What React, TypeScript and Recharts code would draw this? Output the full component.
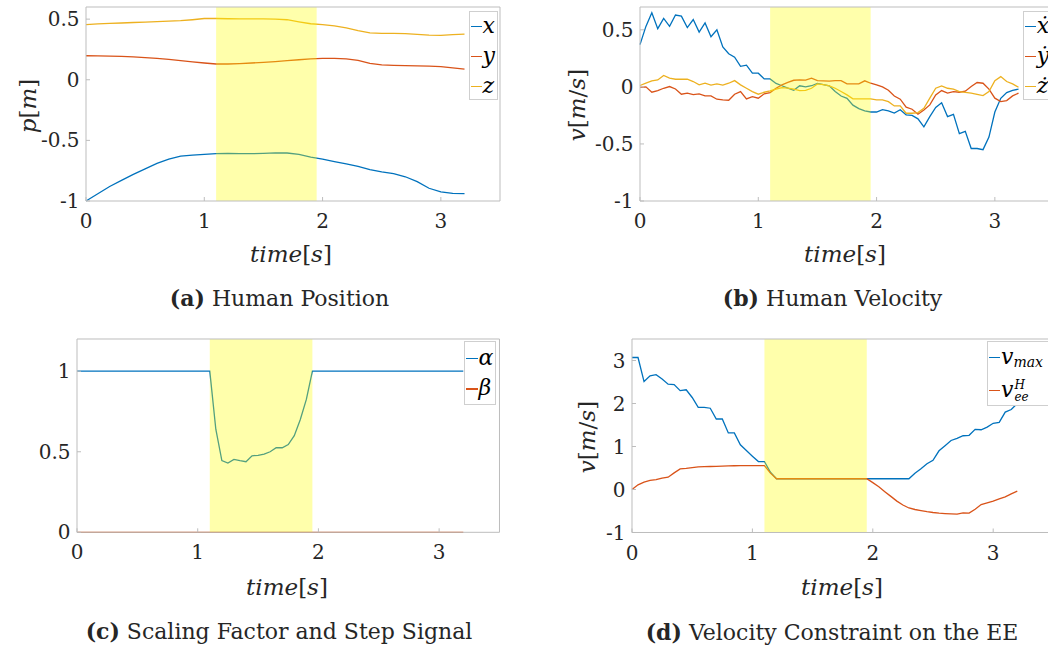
import React from "react";
import { LineChart, Line, XAxis, YAxis, ReferenceArea } from "recharts";

const FONT = '"DejaVu Serif", "Liberation Serif", serif';
const BLUE = "#0072BD";
const RED = "#D95319";
const YELLOW = "#EDB120";
const AXIS = "#bdbdbd";
const INK = "#262626";

// shaded window (s)
const shadeFrom = 1.1;
const shadeTo = 1.95;
const timeTicks = [0, 1, 2, 3];

// (a) human position, every 0.1 s
const posTime = [0, 0.1, 0.2, 0.3, 0.4, 0.5, 0.6, 0.7, 0.8, 0.9, 1, 1.1, 1.2, 1.3, 1.4, 1.5, 1.6, 1.7, 1.8, 1.9, 2, 2.1, 2.2, 2.3, 2.4, 2.5, 2.6, 2.7, 2.8, 2.9, 3, 3.1, 3.2];
const posX = [-1, -0.94, -0.88, -0.83, -0.78, -0.735, -0.69, -0.655, -0.63, -0.622, -0.615, -0.61, -0.607, -0.609, -0.61, -0.607, -0.603, -0.604, -0.615, -0.638, -0.655, -0.675, -0.693, -0.715, -0.742, -0.76, -0.775, -0.8, -0.84, -0.895, -0.925, -0.937, -0.94];
const posY = [0.198, 0.197, 0.195, 0.192, 0.188, 0.182, 0.176, 0.168, 0.158, 0.148, 0.138, 0.13, 0.13, 0.133, 0.138, 0.144, 0.15, 0.158, 0.165, 0.172, 0.176, 0.176, 0.172, 0.16, 0.135, 0.122, 0.118, 0.116, 0.114, 0.112, 0.108, 0.098, 0.088];
const posZ = [0.455, 0.46, 0.465, 0.468, 0.472, 0.476, 0.48, 0.483, 0.487, 0.495, 0.505, 0.505, 0.503, 0.502, 0.502, 0.502, 0.5, 0.495, 0.478, 0.462, 0.455, 0.445, 0.428, 0.405, 0.386, 0.383, 0.382, 0.38, 0.375, 0.368, 0.366, 0.372, 0.376];

// (b) human velocity, every 0.05 s
const velTime = [0, 0.05, 0.1, 0.15, 0.2, 0.25, 0.3, 0.35, 0.4, 0.45, 0.5, 0.55, 0.6, 0.65, 0.7, 0.75, 0.8, 0.85, 0.9, 0.95, 1, 1.05, 1.1, 1.15, 1.2, 1.25, 1.3, 1.35, 1.4, 1.45, 1.5, 1.55, 1.6, 1.65, 1.7, 1.75, 1.8, 1.85, 1.9, 1.95, 2, 2.05, 2.1, 2.15, 2.2, 2.25, 2.3, 2.35, 2.4, 2.45, 2.5, 2.55, 2.6, 2.65, 2.7, 2.75, 2.8, 2.85, 2.9, 2.95, 3, 3.05, 3.1, 3.15, 3.2];
const velX = [0.37, 0.53, 0.65, 0.51, 0.6, 0.53, 0.63, 0.62, 0.52, 0.59, 0.48, 0.56, 0.44, 0.5, 0.35, 0.29, 0.26, 0.18, 0.19, 0.12, 0.12, 0.07, 0.07, 0.03, 0.01, -0.01, -0.03, 0.01, 0.0, 0.01, 0.03, 0.02, 0.01, -0.04, -0.08, -0.1, -0.16, -0.19, -0.21, -0.22, -0.22, -0.2, -0.21, -0.23, -0.2, -0.245, -0.25, -0.28, -0.35, -0.26, -0.18, -0.14, -0.26, -0.24, -0.41, -0.39, -0.54, -0.54, -0.55, -0.44, -0.22, -0.1, -0.05, -0.03, -0.02];
const velY = [-0.005, 0.0, -0.047, -0.032, -0.012, 0.003, -0.018, -0.064, -0.055, -0.067, -0.061, -0.079, -0.079, -0.108, -0.114, -0.117, -0.064, -0.041, -0.105, -0.085, -0.099, -0.061, -0.05, -0.012, 0.018, 0.04, 0.058, 0.061, 0.06, 0.076, 0.055, 0.052, 0.05, 0.055, 0.055, 0.026, 0.026, 0.026, 0.053, 0.032, 0.018, 0.0, -0.03, -0.08, -0.108, -0.178, -0.196, -0.24, -0.202, -0.158, -0.07, -0.032, -0.055, -0.041, -0.047, -0.038, 0.003, 0.038, 0.032, -0.02, -0.099, -0.129, -0.12, -0.079, -0.055];
const velZ = [0.012, 0.032, 0.053, 0.061, 0.1, 0.076, 0.067, 0.067, 0.067, 0.047, 0.018, 0.032, 0.015, 0.026, 0.015, 0.032, 0.055, 0.018, -0.012, -0.041, -0.064, -0.047, -0.035, -0.02, -0.006, -0.01, -0.02, -0.032, -0.03, -0.012, 0.026, 0.02, 0.009, -0.012, -0.04, -0.07, -0.105, -0.105, -0.105, -0.105, -0.114, -0.114, -0.129, -0.167, -0.167, -0.231, -0.231, -0.225, -0.187, -0.099, -0.012, 0.009, -0.012, -0.02, -0.041, -0.048, -0.055, -0.065, -0.076, -0.041, 0.055, 0.09, 0.047, 0.026, -0.003];

// (c) scaling factor / step signal
const scaleTime = [0, 1.1, 1.15, 1.2, 1.25, 1.3, 1.35, 1.4, 1.45, 1.5, 1.55, 1.6, 1.65, 1.7, 1.75, 1.8, 1.85, 1.9, 1.95, 3.2];
const alpha = [1, 1, 0.64, 0.445, 0.43, 0.453, 0.445, 0.438, 0.475, 0.478, 0.486, 0.5, 0.525, 0.525, 0.545, 0.6, 0.7, 0.825, 1, 1];
const beta = [0, 0, 0, 0, 0, 0, 0, 0, 0, 0, 0, 0, 0, 0, 0, 0, 0, 0, 0, 0];

// (d) velocity constraint, every 0.05 s
const vMax = [3.07, 3.07, 2.51, 2.645, 2.67, 2.57, 2.45, 2.44, 2.3, 2.32, 2.14, 1.91, 1.91, 1.89, 1.64, 1.64, 1.315, 1.315, 1.04, 0.905, 0.775, 0.65, 0.65, 0.4, 0.25, 0.25, 0.25, 0.25, 0.25, 0.25, 0.25, 0.25, 0.25, 0.25, 0.25, 0.25, 0.25, 0.25, 0.25, 0.25, 0.25, 0.25, 0.25, 0.25, 0.25, 0.25, 0.25, 0.38, 0.48, 0.6, 0.68, 0.9, 1.02, 1.14, 1.19, 1.25, 1.26, 1.4, 1.39, 1.45, 1.54, 1.56, 1.8, 1.86, 2.0];
const vEe = [0.0, 0.108, 0.17, 0.21, 0.232, 0.263, 0.286, 0.387, 0.48, 0.49, 0.51, 0.527, 0.53, 0.535, 0.54, 0.545, 0.55, 0.552, 0.554, 0.555, 0.556, 0.557, 0.557, 0.38, 0.25, 0.25, 0.25, 0.25, 0.25, 0.25, 0.25, 0.25, 0.25, 0.25, 0.25, 0.25, 0.25, 0.25, 0.25, 0.25, 0.16, 0.065, -0.05, -0.16, -0.27, -0.36, -0.43, -0.465, -0.49, -0.515, -0.535, -0.55, -0.56, -0.567, -0.573, -0.545, -0.55, -0.46, -0.35, -0.31, -0.27, -0.22, -0.17, -0.1, -0.04];

const toRows = (time: number[], cols: Record<string, number[]>) =>
  time.map((t, i) => {
    const row: Record<string, number> = { t };
    for (const k in cols) row[k] = cols[k][i];
    return row;
  });

interface PanelProps {
  x: number; // page coords of plot box
  y: number;
  w: number;
  h: number;
  yDomain: [number, number];
  yTicks: number[];
  rows: Record<string, number>[];
  lines: { key: string; color: string }[];
}

const LEFT = 80;
const TOP = 7;
const BOTTOM = 50;
const RIGHT = 20;

const Panel: React.FC<PanelProps> = ({ x, y, w, h, yDomain, yTicks, rows, lines }) => {
  const tickStyle = { fontSize: 20, fill: INK, fontFamily: FONT };
  return (
    <div style={{ position: "absolute", left: x - LEFT, top: y - TOP }}>
      <LineChart
        width={w + LEFT + RIGHT}
        height={h + TOP + BOTTOM}
        data={rows}
        margin={{ top: TOP - 1, right: RIGHT - 1, left: 0, bottom: 0 }}
      >
        <XAxis
          xAxisId="b"
          dataKey="t"
          type="number"
          domain={[0, 3.5]}
          ticks={timeTicks}
          height={BOTTOM}
          axisLine={{ stroke: AXIS }}
          tickLine={{ stroke: AXIS }}
          tickSize={-4}
          tickMargin={17}
          tick={tickStyle}
        />
        <XAxis
          xAxisId="t"
          orientation="top"
          dataKey="t"
          type="number"
          domain={[0, 3.5]}
          ticks={timeTicks}
          height={1}
          axisLine={{ stroke: AXIS }}
          tickLine={{ stroke: AXIS }}
          tickSize={-4}
          tick={false}
        />
        <YAxis
          yAxisId="l"
          type="number"
          domain={yDomain}
          ticks={yTicks}
          width={LEFT}
          axisLine={{ stroke: AXIS }}
          tickLine={{ stroke: AXIS }}
          tickSize={-4}
          tickMargin={10.5}
          tick={tickStyle}
        />
        <YAxis
          yAxisId="r"
          orientation="right"
          type="number"
          domain={yDomain}
          ticks={yTicks}
          width={1}
          axisLine={{ stroke: AXIS }}
          tickLine={{ stroke: AXIS }}
          tickSize={-4}
          tick={false}
        />
        {lines.map((l) => (
          <Line
            key={l.key}
            xAxisId="b"
            yAxisId="l"
            type="linear"
            dataKey={l.key}
            stroke={l.color}
            strokeWidth={1.3}
            dot={false}
            isAnimationActive={false}
          />
        ))}
        <ReferenceArea
          xAxisId="b"
          yAxisId="l"
          x1={shadeFrom}
          x2={shadeTo}
          fill="#ffff00"
          fillOpacity={0.33}
          stroke="none"
          zIndex={450}
        />
      </LineChart>
    </div>
  );
};

// free text, centred on (x, y)
const Txt: React.FC<{ x: number; y: number; size: number; rotate?: boolean; children: React.ReactNode }> = ({
  x,
  y,
  size,
  rotate,
  children,
}) => (
  <div
    style={{
      position: "absolute",
      left: x,
      top: y,
      transform: `translate(-50%, -50%)${rotate ? " rotate(-90deg)" : ""}`,
      fontFamily: FONT,
      fontSize: size,
      color: INK,
      whiteSpace: "nowrap",
      lineHeight: 1,
    }}
  >
    {children}
  </div>
);

interface LegendEntry {
  color: string;
  y: number;
  label: React.ReactNode;
}

const LegendBox: React.FC<{ x: number; y: number; w: number; h: number; lineW: number; entries: LegendEntry[] }> = ({
  x,
  y,
  w,
  h,
  lineW,
  entries,
}) => (
  <div
    style={{
      position: "absolute",
      left: x,
      top: y,
      width: w,
      height: h,
      border: "1px solid #cfcfcf",
      background: "white",
      boxSizing: "border-box",
    }}
  >
    {entries.map((e, i) => (
      <React.Fragment key={i}>
        <div
          style={{
            position: "absolute",
            left: 1,
            top: e.y - 1,
            width: lineW,
            height: 1.4,
            background: e.color,
          }}
        />
        <div
          style={{
            position: "absolute",
            left: lineW + 2,
            top: e.y,
            transform: "translateY(-55%)",
            fontFamily: FONT,
            fontStyle: "italic",
            fontSize: 22,
            lineHeight: 1,
            color: "#000",
            whiteSpace: "nowrap",
          }}
        >
          {e.label}
        </div>
      </React.Fragment>
    ))}
  </div>
);

const TimeLabel = () => (
  <span>
    <i>time</i>[<i>s</i>]
  </span>
);
const VelLabel = () => (
  <span>
    <i>v</i>[<i>m</i>/<i>s</i>]
  </span>
);

export default function App() {
  const posRows = toRows(posTime, { x: posX, y: posY, z: posZ });
  const velRows = toRows(velTime, { x: velX, y: velY, z: velZ });
  const scaleRows = toRows(scaleTime, { a: alpha, b: beta });
  const conRows = toRows(velTime, { vmax: vMax, vee: vEe });

  return (
    <div
      style={{
        position: "absolute",
        left: 0,
        top: 0,
        width: 1048,
        height: 651,
        overflow: "hidden",
        background: "white",
      }}
    >
      <Panel
        x={85.5}
        y={7}
        w={414}
        h={194}
        yDomain={[-1, 0.6]}
        yTicks={[-1, -0.5, 0, 0.5]}
        rows={posRows}
        lines={[
          { key: "x", color: BLUE },
          { key: "y", color: RED },
          { key: "z", color: YELLOW },
        ]}
      />
      <Panel
        x={639.7}
        y={7}
        w={414}
        h={194}
        yDomain={[-1, 0.7]}
        yTicks={[-1, -0.5, 0, 0.5]}
        rows={velRows}
        lines={[
          { key: "x", color: BLUE },
          { key: "y", color: RED },
          { key: "z", color: YELLOW },
        ]}
      />
      <Panel
        x={77}
        y={338.7}
        w={422.5}
        h={193.3}
        yDomain={[0, 1.2]}
        yTicks={[0, 0.5, 1]}
        rows={scaleRows}
        lines={[
          { key: "a", color: BLUE },
          { key: "b", color: RED },
        ]}
      />
      <Panel
        x={631.7}
        y={338.5}
        w={421.4}
        h={193.5}
        yDomain={[-1, 3.5]}
        yTicks={[-1, 0, 1, 2, 3]}
        rows={conRows}
        lines={[
          { key: "vmax", color: BLUE },
          { key: "vee", color: RED },
        ]}
      />

      {/* axis labels */}
      <Txt x={291} y={254} size={23}>
        <TimeLabel />
      </Txt>
      <Txt x={845} y={254} size={23}>
        <TimeLabel />
      </Txt>
      <Txt x={287} y={587} size={23}>
        <TimeLabel />
      </Txt>
      <Txt x={842} y={587} size={23}>
        <TimeLabel />
      </Txt>
      <Txt x={27.5} y={106} size={23} rotate>
        <i>p</i>[<i>m</i>]
      </Txt>
      <Txt x={577} y={105} size={23} rotate>
        <VelLabel />
      </Txt>
      <Txt x={586.5} y={437} size={23} rotate>
        <VelLabel />
      </Txt>

      {/* captions */}
      <Txt x={279.5} y={298} size={22}>
        <b>(a)</b> Human Position
      </Txt>
      <Txt x={832.5} y={298} size={22}>
        <b>(b)</b> Human Velocity
      </Txt>
      <Txt x={279} y={631} size={22}>
        <b>(c)</b> Scaling Factor and Step Signal
      </Txt>
      <Txt x={832} y={632} size={22}>
        <b>(d)</b> Velocity Constraint on the EE
      </Txt>

      {/* legends */}
      <LegendBox
        x={469}
        y={10.7}
        w={28.5}
        h={89.5}
        lineW={10.5}
        entries={[
          { color: BLUE, y: 15, label: "x" },
          { color: RED, y: 45, label: "y" },
          { color: YELLOW, y: 75.3, label: "z" },
        ]}
      />
      <LegendBox
        x={1023.3}
        y={10.7}
        w={40}
        h={89.5}
        lineW={10.5}
        entries={[
          { color: BLUE, y: 15, label: "ẋ" },
          { color: RED, y: 45, label: "ẏ" },
          { color: YELLOW, y: 75.3, label: "ż" },
        ]}
      />
      <LegendBox
        x={464}
        y={341}
        w={31.5}
        h={63.5}
        lineW={11.5}
        entries={[
          { color: BLUE, y: 16.7, label: "α" },
          { color: RED, y: 47.3, label: "β" },
        ]}
      />
      <LegendBox
        x={987}
        y={341}
        w={80}
        h={64.5}
        lineW={11}
        entries={[
          {
            color: BLUE,
            y: 16,
            label: (
              <span>
                v<span style={{ fontSize: 14, position: "relative", top: 3 }}>max</span>
              </span>
            ),
          },
          {
            color: RED,
            y: 48.5,
            label: (
              <span style={{ display: "inline-flex", alignItems: "center" }}>
                v
                <span
                  style={{
                    display: "inline-flex",
                    flexDirection: "column",
                    fontSize: 12,
                    lineHeight: 1,
                    marginLeft: 1,
                    position: "relative",
                    top: 1,
                  }}
                >
                  <span>H</span>
                  <span>ee</span>
                </span>
              </span>
            ),
          },
        ]}
      />
    </div>
  );
}
